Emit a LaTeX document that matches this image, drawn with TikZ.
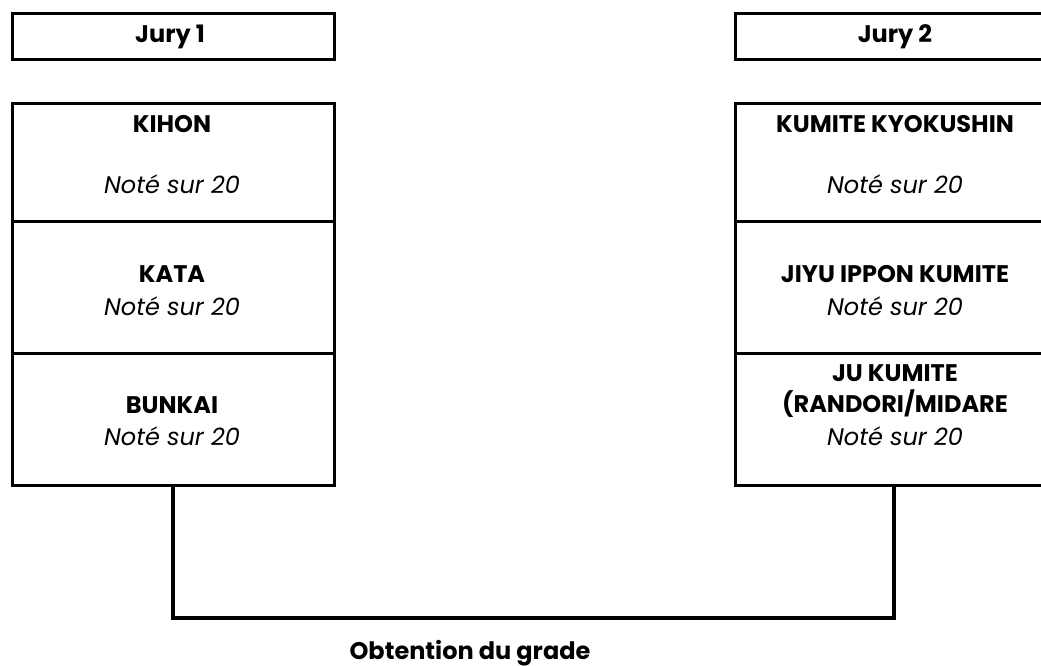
\documentclass[tikz,border=0pt]{standalone}
\usepackage{fontspec}
\setmainfont{Poppins}
\begin{document}
\begin{tikzpicture}[x=1pt,y=-1pt,
  box/.style={draw=black, line width=2.6pt, minimum width=322pt, inner sep=0pt, anchor=north west},
  link/.style={line width=3.6pt, line cap=rect},
  tit/.style={anchor=base, inner sep=0pt, font=\bfseries\fontsize{24}{28}\selectfont},
  note/.style={anchor=base, inner sep=0pt, font=\itshape\fontsize{24}{28}\selectfont},
  ]
\useasboundingbox (0,0) rectangle (1041,666);
\clip (0,0) rectangle (1041,666);
% Jury headers
\node[box, minimum height=46pt] (j1) at (11,12) {};
\node[tit] (j1t) at (170,43) {Jury 1};
\node[box, minimum height=46pt] (j2) at (734,12) {};
\node[tit] (j2t) at (895,43) {Jury 2};
% left column
\node[box, minimum height=118pt] (kihon) at (11,102) {};
\node[tit] (kihont) at (172,133) {KIHON};
\node[note] (kihonn) at (172,193) {Noté sur 20};
\node[box, minimum height=132pt] (kata) at (11,220) {};
\node[tit] (katat) at (172,282) {KATA};
\node[note] (katan) at (172,315) {Noté sur 20};
\node[box, minimum height=132pt] (bunkai) at (11,352) {};
\node[tit] (bunkait) at (172,413) {BUNKAI};
\node[note] (bunkain) at (172,445) {Noté sur 20};
% right column
\node[box, minimum height=118pt] (kumite) at (734,102) {};
\node[tit] (kumitet) at (895,133) {KUMITE KYOKUSHIN};
\node[note] (kumiten) at (895,193) {Noté sur 20};
\node[box, minimum height=132pt] (jiyu) at (734,220) {};
\node[tit] (jiyut) at (895,282) {JIYU IPPON KUMITE};
\node[note] (jiyun) at (895,315) {Noté sur 20};
\node[box, minimum height=132pt] (ju) at (734,352) {};
\node[tit] (jut) at (895,381) {JU KUMITE};
\node[tit] (jut2) at (895,412) {(RANDORI/MIDARE};
\node[note] (jun) at (895,445) {Noté sur 20};
% connector
\coordinate (bl) at (173,618);
\coordinate (br) at (894,618);
\draw[link] (bunkai.south west -| bl) -- (bl) -- (br) -- (ju.south west -| br);
\node[tit] (grade) at (470,659) {Obtention du grade};
\end{tikzpicture}
\end{document}
